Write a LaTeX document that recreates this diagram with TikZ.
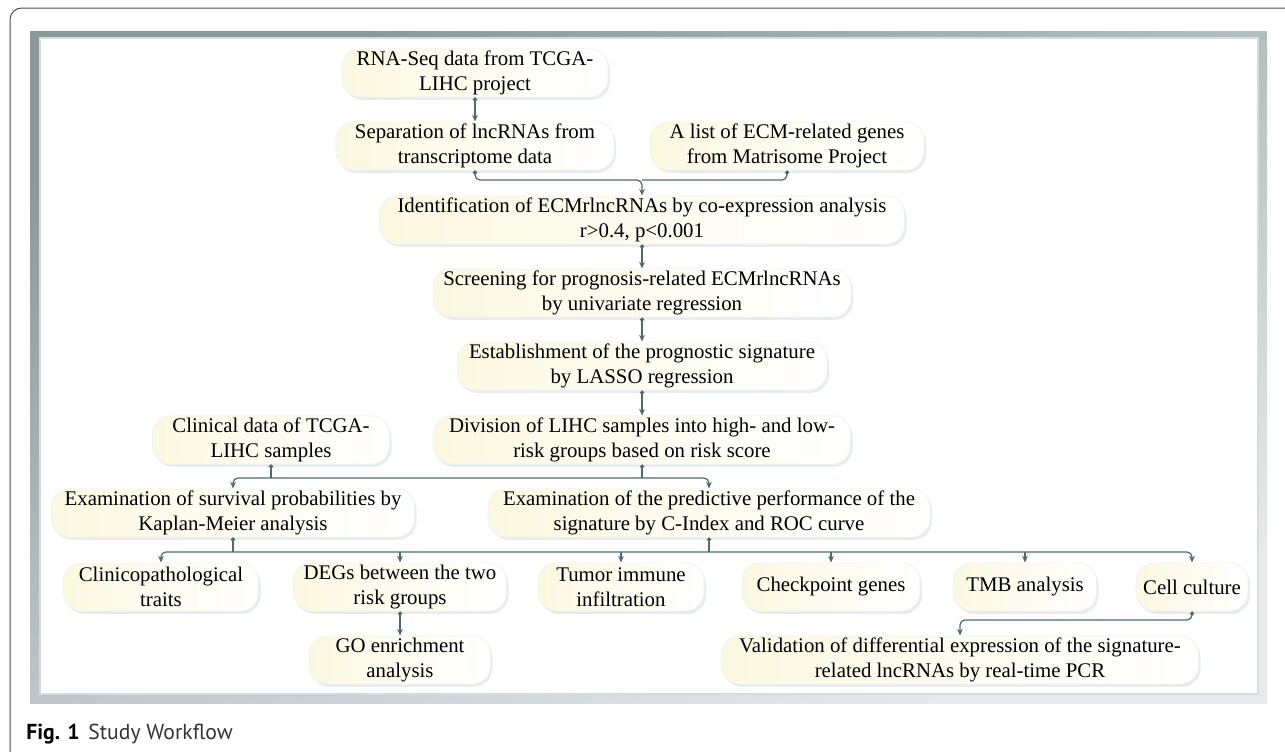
\documentclass[tikz,border=0pt]{standalone}
\usepackage{fontspec}
\setmainfont{Liberation Serif}
\newfontfamily\capfont{PT Sans}
\usetikzlibrary{positioning, shapes.geometric, arrows.meta, shadows}
\definecolor{wire}{HTML}{4E6A6F}
\definecolor{cream}{HTML}{FBF8E1}
\definecolor{haze}{HTML}{D3DBE3}
\definecolor{framedark}{HTML}{8A9A9B}
\definecolor{framelight}{HTML}{E6EAED}
\definecolor{rim}{HTML}{D5DCE0}

\begin{document}
\begin{tikzpicture}[x=0.6pt,y=-0.6pt,
  >={Stealth[length=4pt,width=3.4pt]},
  wd/.style={minimum width=#1*0.6pt}]
  \tikzstyle{box}=[rounded corners=11pt, left color=cream, right color=white,
    draw=haze!40, line width=0.4pt, align=center, minimum height=29pt, inner ysep=1pt,
    drop shadow={shadow xshift=1.2pt, shadow yshift=-1.6pt, fill=haze},
    font=\fontsize{12.5}{15}\selectfont]
  \tikzstyle{link}=[draw=wire, line width=0.75pt, {Circle[length=2.4pt]}->, rounded corners=3pt]
  \tikzstyle{tie}=[draw=wire, line width=0.75pt, {Circle[length=2.4pt]}-, rounded corners=3pt]
  \tikzstyle{fork}=[draw=wire, line width=0.75pt, <->, rounded corners=3pt]
  \tikzstyle{drop}=[draw=wire, line width=0.75pt, ->]

  \useasboundingbox (0,0) rectangle (1285,752);

  % frame and panel
  \draw[line width=0.6pt, draw=black!70, rounded corners=7pt] (10,780) -- (10,8) -- (1300,8);
  \shade[top color=framedark, bottom color=framelight, shading angle=25] (30,31) rectangle (1267,703);
  \filldraw[fill=white, draw=rim, line width=0.8pt] (40,38) rectangle (1258,694);

  \node[box, wd=266] (RNA) at (475,73)  {RNA-Seq data from TCGA-\\LIHC project};
  \node[box, wd=278] (SEP) at (475,146) {Separation of lncRNAs from\\transcriptome data};
  \node[box, wd=274] (ECM) at (787,146) {A list of ECM-related genes\\from Matrisome Project};
  \node[box, wd=525] (IDN) at (642,220) {Identification of ECMrlncRNAs by co-expression analysis\\r>0.4, p<0.001};
  \node[box, wd=418] (SCR) at (642,293) {Screening for prognosis-related ECMrlncRNAs\\by univariate regression};
  \node[box, wd=370] (EST) at (642,366) {Establishment of the prognostic signature\\by LASSO regression};
  \node[box, wd=237] (CLN) at (271,440) {Clinical data of TCGA-\\LIHC samples};
  \node[box, wd=417] (DIV) at (642,440) {Division of LIHC samples into high- and low-\\risk groups based on risk score};
  \node[box, wd=363] (KM)  at (233,513) {Examination of survival probabilities by\\Kaplan-Meier analysis};
  \node[box, wd=442] (ROC) at (709,513) {Examination of the predictive performance of the\\signature by C-Index and ROC curve};
  \node[box, wd=195] (CPT) at (161,587) {Clinicopathological\\traits};
  \node[box, wd=213] (DEG) at (400,587) {DEGs between the two\\risk groups};
  \node[box, wd=166] (TIL) at (621,587) {Tumor immune\\infiltration};
  \node[box, wd=178] (CKP) at (831,587) {Checkpoint genes};
  \node[box, wd=143] (TMB) at (1025,587) {TMB analysis};
  \node[box, wd=112] (CEL) at (1192,587) {Cell culture};
  \node[box, wd=181] (GO)  at (400,660) {GO enrichment\\analysis};
  \node[box, wd=477] (PCR) at (960,660) {Validation of differential expression of the signature-\\related lncRNAs by real-time PCR};

  \node[anchor=base west, inner sep=0pt, font=\capfont\fontsize{13}{15}\selectfont] (CAP) at (26,739)
    {\textbf{Fig. 1}\hspace{0.4em}\textcolor{black!80}{Study Workflow}};

  \coordinate (L1) at (642,180);
  \coordinate (L2) at (642,478);
  \coordinate (L3) at (642,552);
  \coordinate (L4) at (960,620);

  \path[link] (RNA) edge (SEP)
              (IDN) edge (SCR)
              (SCR) edge (EST)
              (EST) edge (DIV)
              (DEG) edge (GO);

  \draw[link] (SEP.south) |- (L1) -- (IDN.north);
  \draw[tie]  (ECM.south) |- (L1);

  \draw[fork] (KM.north) |- (L2) -| (ROC.north);
  \draw[tie]  (CLN.south) -- (CLN.south |- L2);
  \draw[tie]  (DIV.south) -- (L2);

  \draw[fork] (CPT.north) |- (L3) -| (CEL.north);
  \draw[tie]  (KM.south) -- (KM.south |- L3);
  \draw[tie]  (ROC.south) -- (ROC.south |- L3);
  \draw[drop] (DEG.north |- L3) -- (DEG.north);
  \draw[drop] (TIL.north |- L3) -- (TIL.north);
  \draw[drop] (CKP.north |- L3) -- (CKP.north);
  \draw[drop] (TMB.north |- L3) -- (TMB.north);

  \draw[link] (CEL.south) |- (L4) -- (PCR.north);
\end{tikzpicture}
\end{document}
